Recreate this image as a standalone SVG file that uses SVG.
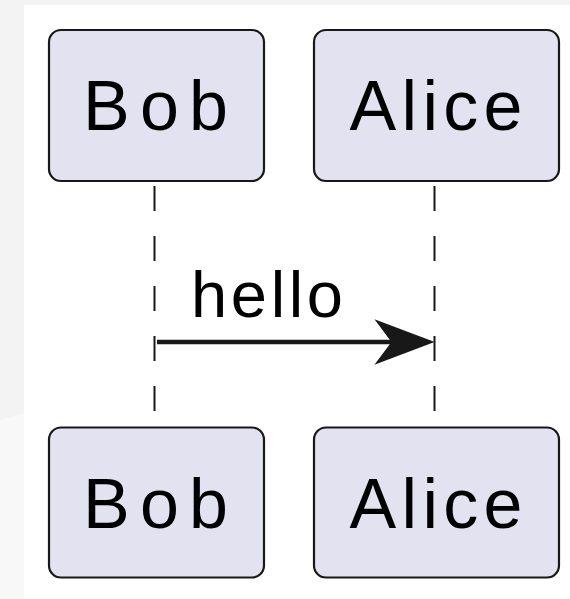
<svg xmlns="http://www.w3.org/2000/svg" width="570" height="599" viewBox="0 0 570 599">
<defs>
<style>
.bg{fill:#F3F3F3}
.box{fill:#E2E2F0;stroke:#181818;stroke-width:2.2}
.name{font-family:"Liberation Sans",Arial,sans-serif;font-size:70px;fill:#000000}
.life{stroke:#181818;stroke-width:2;stroke-dasharray:25,25;fill:none}
.msg{stroke:#181818;stroke-width:4.5;fill:none}
.head{fill:#181818;stroke:#181818;stroke-width:2.5;stroke-linejoin:miter}
.label{font-family:"Liberation Sans",Arial,sans-serif;font-size:65px;fill:#000000}
</style>
</defs>
<rect class="bg" x="0" y="0" width="570" height="599"/>
<polygon points="0,420 24,413 24,599 0,599" fill="#F8F8F8"/>
<rect x="24" y="5" width="546" height="594" fill="#FFFFFF"/>
<g id="connectors">
<line class="life" x1="154.5" y1="186" x2="154.5" y2="412"/>
<line class="life" x1="434.5" y1="186" x2="434.5" y2="412"/>
<line class="msg" x1="157" y1="342" x2="420" y2="342"/>
<polygon class="head" points="431,342 378,322 393,342 378,362"/>
<text class="label" x="191" y="316.5" textLength="152" lengthAdjust="spacing">hello</text>
</g>
<g id="bob-top">
<rect class="box" x="49" y="30" width="215" height="151" rx="12" ry="12"/>
<text class="name" x="83" y="130" textLength="145" lengthAdjust="spacing">Bob</text>
</g>
<g id="alice-top">
<rect class="box" x="314" y="30" width="245" height="151" rx="12" ry="12"/>
<text class="name" x="349.5" y="130" textLength="173" lengthAdjust="spacing">Alice</text>
</g>
<g id="bob-bottom">
<rect class="box" x="49" y="427.5" width="215" height="150" rx="12" ry="12"/>
<text class="name" x="83" y="527.5" textLength="145" lengthAdjust="spacing">Bob</text>
</g>
<g id="alice-bottom">
<rect class="box" x="314" y="427.5" width="245" height="150" rx="12" ry="12"/>
<text class="name" x="349.5" y="527.5" textLength="173" lengthAdjust="spacing">Alice</text>
</g>
</svg>
